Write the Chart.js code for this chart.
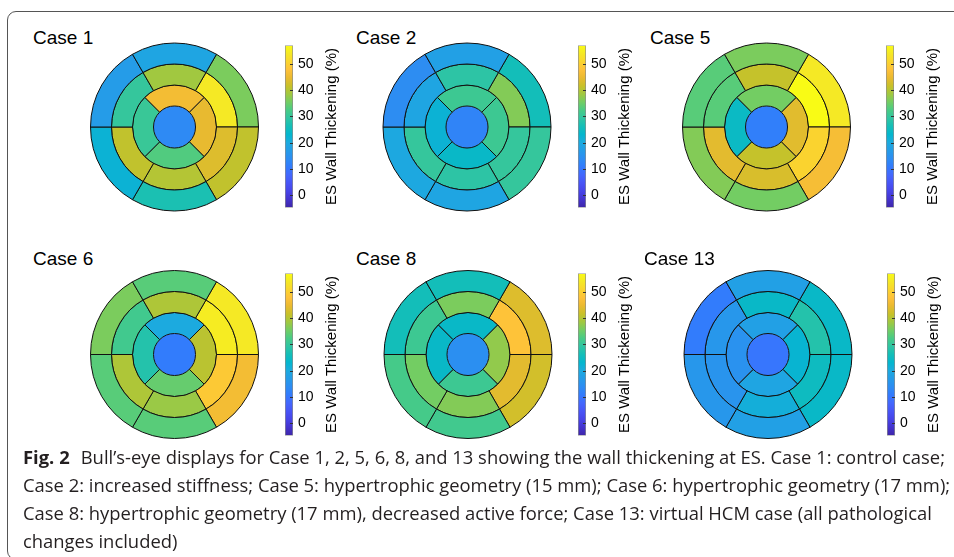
<!DOCTYPE html>
<html>
<head>
<meta charset="utf-8">
<script src="https://cdn.jsdelivr.net/npm/chart.js@4.4.1/dist/chart.umd.min.js"></script>
<style>
  html, body { margin: 0; padding: 0; background: #fff; }
  body { width: 954px; height: 557px; position: relative; overflow: hidden;
         font-family: "Liberation Sans", Arial, Helvetica, sans-serif; }
  #frame { position: absolute; left: 7px; top: 11px; width: 980px; height: 547px;
           border: 1px solid #555; border-radius: 9px; }
  .case-title { position: absolute; font-size: 19px; line-height: 19px; color: #000; white-space: nowrap; }
  canvas { position: absolute; }
  #caption { position: absolute; left: 23px; top: 443px; color: #231f20;
             font-family: "Open Sans", "Noto Sans", sans-serif;
             font-size: 17.5px; line-height: 28px; transform-origin: 0 0; white-space: nowrap; }
  #caption .ln { display: block; width: max-content; }
  #caption b { margin-right: 6px; }
</style>
</head>
<body>
<div id="frame"></div>
<div id="panels"></div>
<div id="caption">
  <div class="ln"><b>Fig. 2</b> Bull’s-eye displays for Case 1, 2, 5, 6, 8, and 13 showing the wall thickening at ES. Case 1: control case;</div>
  <div class="ln">Case 2: increased stiffness; Case 5: hypertrophic geometry (15 mm); Case 6: hypertrophic geometry (17 mm);</div>
  <div class="ln">Case 8: hypertrophic geometry (17 mm), decreased active force; Case 13: virtual HCM case (all pathological</div>
  <div class="ln">changes included)</div>
</div>
<script>
// wall thickening at ES (%), one row per case, segments in AHA order
const caseNames = ['Case 1', 'Case 2', 'Case 5', 'Case 6', 'Case 8', 'Case 13'];
// basal: anterior, anteroseptal, inferoseptal, inferior, inferolateral, anterolateral
const basal = [
  [19, 17, 22, 27, 41, 36],
  [18, 14, 19.5, 19, 30, 26],
  [36, 33.5, 36.5, 35.5, 46.5, 54],
  [33.5, 36, 33.5, 33.5, 46, 54],
  [26, 26, 32, 31.5, 42.5, 43.5],
  [18, 11, 16, 18, 24, 24]
];
// mid: same order as basal
const mid = [
  [38.5, 30, 41, 40, 43.5, 54],
  [29, 19, 30, 29, 30, 36.5],
  [41.3, 33.5, 44, 43, 50.5, 57],
  [39.5, 31.5, 39.5, 38, 49, 54.5],
  [36, 31, 35.5, 36.5, 44, 48],
  [24, 16, 15.5, 21, 25, 28]
];
// apical: anterior, septal, inferior, lateral
const apical = [
  [46, 30.5, 33, 44.5],
  [31, 22, 24, 31],
  [35.5, 24.5, 41.3, 43.8],
  [20, 28, 34.5, 40.5],
  [24, 24, 31, 37.5],
  [18, 15, 19, 22.5]
];
const apex = [13.5, 12.5, 11.5, 11, 14.5, 10];

// colour bar
const cbMin = -4.7;
const cbMax = 57;
const cbTicks = [0, 10, 20, 30, 40, 50];
const cbTitle = 'ES Wall Thickening (%)';

// parula colormap stops (rgb), evenly spaced
const parula = [
  [62,38,168],[68,51,205],[71,68,232],[72,84,246],[68,103,253],[51,122,253],
  [45,140,243],[37,155,232],[28,170,223],[4,182,206],[20,190,184],[47,197,163],
  [72,203,134],[114,205,100],[161,200,64],[200,193,41],[234,186,48],[254,193,58],
  [250,213,46],[245,232,37],[249,251,21]
];

// where each panel sits on the page
const panels = [
  { cx: 174.5, cy: 127,   titleX: 33,  titleY: 28,  barX: 285, barTop: 42 },
  { cx: 467,   cy: 127,   titleX: 356, titleY: 28,  barX: 578, barTop: 42 },
  { cx: 766.5, cy: 127,   titleX: 650, titleY: 28,  barX: 886, barTop: 42 },
  { cx: 174.5, cy: 354.5, titleX: 33,  titleY: 249, barX: 285, barTop: 270 },
  { cx: 468,   cy: 354.5, titleX: 356, titleY: 249, barX: 578, barTop: 270 },
  { cx: 768,   cy: 354.5, titleX: 644, titleY: 249, barX: 887, barTop: 270 }
];

const FONT = '"Liberation Sans", Arial, Helvetica, sans-serif';

function colorOf(v) {
  const t = Math.min(1, Math.max(0, (v - cbMin) / (cbMax - cbMin)));
  const p = t * (parula.length - 1);
  const i = Math.min(parula.length - 2, Math.floor(p));
  const f = p - i;
  const c = parula[i].map((a, k) => Math.round(a + (parula[i + 1][k] - a) * f));
  return `rgb(${c[0]}, ${c[1]}, ${c[2]})`;
}

// doughnut draws clockwise, AHA order runs counter-clockwise -> reverse
function ring(vals, rotation, bw) {
  const cw = vals.slice().reverse();
  return {
    data: cw.map(() => 1),
    backgroundColor: cw.map(colorOf),
    borderColor: '#111',
    borderWidth: bw,
    rotation: rotation
  };
}

const cbDecor = {
  id: 'cbDecor',
  afterDatasetsDraw(chart) {
    const { ctx, chartArea: a, scales: { y } } = chart;
    ctx.save();
    ctx.strokeStyle = '#333';
    ctx.lineWidth = 1;
    cbTicks.forEach(v => {
      const py = Math.round(y.getPixelForValue(v)) + 0.5;
      ctx.beginPath();
      ctx.moveTo(a.right - 3, py);
      ctx.lineTo(a.right, py);
      ctx.stroke();
    });
    ctx.translate(a.left + 46.5, (a.top + a.bottom) / 2);
    ctx.rotate(-Math.PI / 2);
    ctx.font = '15px ' + FONT;
    ctx.fillStyle = '#000';
    ctx.textAlign = 'center';
    ctx.textBaseline = 'middle';
    ctx.fillText(cbTitle, 0, 0);
    ctx.restore();
  }
};

function makeCanvas(left, top, w, h) {
  const c = document.createElement('canvas');
  c.width = w; c.height = h;
  c.style.left = left + 'px';
  c.style.top = top + 'px';
  c.style.width = w + 'px';
  c.style.height = h + 'px';
  document.getElementById('panels').appendChild(c);
  return c;
}

function initCharts() {
  panels.forEach((p, n) => {
    // title
    const t = document.createElement('div');
    t.className = 'case-title';
    t.textContent = caseNames[n];
    t.style.left = p.titleX + 'px';
    t.style.top = p.titleY + 'px';
    document.getElementById('panels').appendChild(t);

    // bull's-eye (apex edge is drawn by the apical ring border)
    const w = (p.cx % 1) ? 181 : 180;
    const h = (p.cy % 1) ? 181 : 180;
    const eye = makeCanvas(p.cx - w / 2, p.cy - h / 2, w, h);
    new Chart(eye.getContext('2d'), {
      type: 'doughnut',
      data: {
        labels: ['a', 'b', 'c', 'd', 'e', 'f'],
        datasets: [
          ring(basal[n], 30, 1),
          ring(mid[n], 30, 1),
          ring(apical[n], 45, 1),
          ring([apex[n]], 0, 0)
        ]
      },
      options: {
        responsive: false,
        animation: false,
        events: [],
        radius: 84,
        cutout: 0,
        layout: { padding: 0 },
        plugins: { legend: { display: false }, tooltip: { enabled: false } }
      }
    });

    // colour bar
    const bar = makeCanvas(p.barX, p.barTop - 10, 70, 189);
    new Chart(bar.getContext('2d'), {
      type: 'bar',
      data: {
        labels: [''],
        datasets: [{
          data: [[cbMin, cbMax]],
          backgroundColor: (c) => {
            const a = c.chart.chartArea;
            if (!a) return 'transparent';
            const g = c.chart.ctx.createLinearGradient(0, a.bottom, 0, a.top);
            parula.forEach((s, i) => g.addColorStop(i / (parula.length - 1), `rgb(${s[0]}, ${s[1]}, ${s[2]})`));
            return g;
          },
          borderColor: '#8c8c8c',
          borderWidth: 1,
          borderSkipped: false,
          barPercentage: 1,
          categoryPercentage: 1
        }]
      },
      options: {
        responsive: false,
        animation: false,
        events: [],
        layout: { padding: { top: 10, bottom: 10, left: 0, right: 0 } },
        scales: {
          x: { display: false },
          y: {
            position: 'right',
            min: cbMin,
            max: cbMax,
            afterFit: s => { s.width = 62; },
            afterBuildTicks: s => { s.ticks = cbTicks.map(v => ({ value: v })); },
            grid: { display: false, drawTicks: false },
            border: { display: false },
            ticks: {
              padding: 5,
              autoSkip: false,
              color: '#000',
              font: { family: FONT, size: 14 }
            }
          }
        },
        plugins: { legend: { display: false }, tooltip: { enabled: false } }
      },
      plugins: [cbDecor]
    });
  });

  // fit caption line 1 to the printed width
  const cap = document.getElementById('caption');
  const first = cap.querySelector('.ln');
  const k = 922 / first.offsetWidth;
  cap.style.transform = `scaleX(${k})`;
}

document.addEventListener('DOMContentLoaded', initCharts);
</script>
</body>
</html>
